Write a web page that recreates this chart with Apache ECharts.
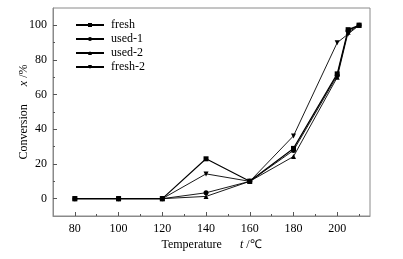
<!DOCTYPE html>
<html>
<head>
<meta charset="UTF-8">
<script src="https://cdn.jsdelivr.net/npm/echarts@6/dist/echarts.min.js"></script>
<style>
  body { margin: 0; background: #fff; }
  #root { width: 403px; height: 259px; }
</style>
</head>
<body>
<div id="root"></div>
<script>
// temperatures (℃)
var temps = [80, 100, 120, 140, 160, 180, 200, 205, 210];
var fresh = [0, 0, 0, 23, 10, 29, 72, 97.5, 100];
var used1 = [0, 0, 0, 3.4, 10, 27.8, 71, 97, 100];
var used2 = [0, 0, 0, 1.3, 10, 24.3, 70, 96, 100];
var fresh2 = [0, 0, 0, 14.3, 10, 36.2, 90, 95, 100];

// tick positions
var xMajor = [80, 100, 120, 140, 160, 180, 200];
var xMinor = [90, 110, 130, 150, 170, 190, 210];
var yMajor = [0, 20, 40, 60, 80, 100];
var yMinor = [10, 30, 50, 70, 90];

var names = ['fresh', 'used-1', 'used-2', 'fresh-2'];
var values = [fresh, used1, used2, fresh2];
var symbols = ['rect', 'circle', 'triangle', 'triangle'];
var rotates = [0, 0, 0, 180];

function pairs(arr) {
  return temps.map(function (t, i) { return [t, arr[i]]; });
}

var font = 'Liberation Serif';
var frame = '#8a8a8a';
var tickColor = '#555';

var nameStyle = {
  rich: {
    a: { fontFamily: font, fontSize: 12, color: '#000' },
    i: { fontFamily: font, fontSize: 12, fontStyle: 'italic', color: '#000' }
  },
  fontFamily: font, fontSize: 12, color: '#000'
};

var chart = echarts.init(document.getElementById('root'));

chart.setOption({
  animation: false,
  textStyle: { fontFamily: font },
  grid: { left: 53, right: 33, top: 8, bottom: 43, show: true, borderColor: frame, borderWidth: 1 },
  legend: {
    orient: 'vertical',
    left: 70,
    top: 14,
    itemGap: 2,
    itemWidth: 28,
    itemHeight: 5,
    textStyle: { fontFamily: font, fontSize: 12, color: '#000', padding: [0, 0, 0, 2] },
    data: names
  },
  xAxis: [{
    type: 'value',
    min: 70,
    max: 215,
    name: '{a|Temperature}      {i|t} /℃',
    nameLocation: 'middle',
    nameGap: 23,
    nameMoveOverlap: false,
    nameTextStyle: nameStyle,
    axisLine: { onZero: false, lineStyle: { color: frame } },
    axisTick: { inside: true, length: 4, customValues: xMajor, lineStyle: { color: tickColor } },
    axisLabel: { customValues: xMajor, fontFamily: font, fontSize: 12, color: '#000', margin: 7 },
    splitLine: { show: false }
  }, {
    type: 'value',
    min: 70,
    max: 215,
    position: 'bottom',
    axisLine: { show: false, onZero: false },
    axisTick: { inside: true, length: 2, customValues: xMinor, lineStyle: { color: tickColor } },
    axisLabel: { show: false },
    splitLine: { show: false }
  }],
  yAxis: [{
    type: 'value',
    min: -10,
    max: 110,
    name: '{a|Conversion}      {i|x} /%',
    nameLocation: 'middle',
    nameRotate: 90,
    nameGap: 23,
    nameMoveOverlap: false,
    nameTextStyle: nameStyle,
    axisLine: { onZero: false, lineStyle: { color: frame } },
    axisTick: { inside: true, length: 4, customValues: yMajor, lineStyle: { color: tickColor } },
    axisLabel: { customValues: yMajor, fontFamily: font, fontSize: 12, color: '#000', margin: 6 },
    splitLine: { show: false }
  }, {
    type: 'value',
    min: -10,
    max: 110,
    position: 'left',
    axisLine: { show: false, onZero: false },
    axisTick: { inside: true, length: 2, customValues: yMinor, lineStyle: { color: tickColor } },
    axisLabel: { show: false },
    splitLine: { show: false }
  }],
  series: names.map(function (n, k) {
    return {
      name: n,
      type: 'line',
      data: pairs(values[k]),
      symbol: symbols[k],
      symbolRotate: rotates[k],
      symbolSize: 5,
      showAllSymbol: true,
      itemStyle: { color: '#000' },
      lineStyle: { color: '#000', width: k === 0 ? 1.2 : 0.9 }
    };
  })
});
</script>
</body>
</html>
